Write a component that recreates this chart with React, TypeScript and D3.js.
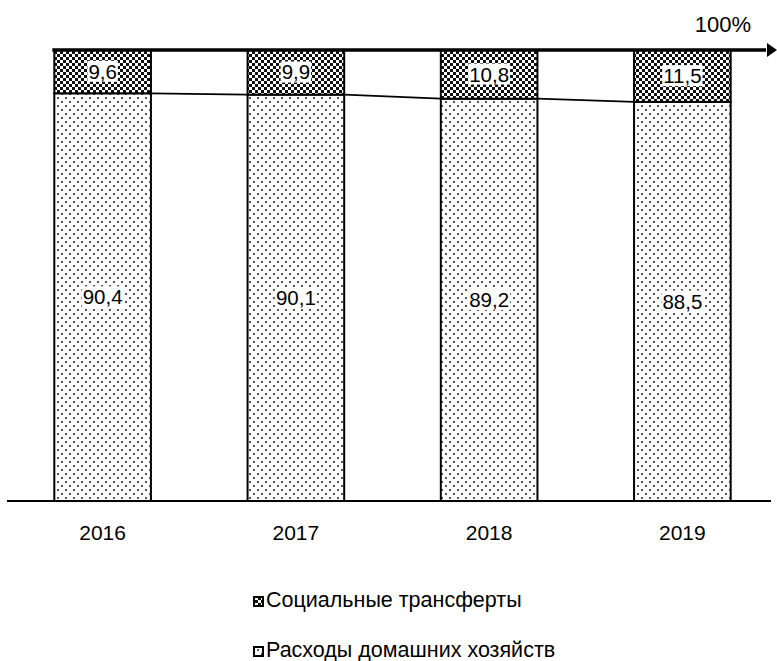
import React, { useEffect, useRef } from "react";
import * as d3 from "d3";

const years = ["2016", "2017", "2018", "2019"];
const households = [90.4, 90.1, 89.2, 88.5];
const transfers = [9.6, 9.9, 10.8, 11.5];
const legendLabels = ["Социальные трансферты", "Расходы домашних хозяйств"];
const fmt = (v: number) => String(v).replace(".", ",");
const font = "Arial, Liberation Sans, sans-serif";

const App = () => {
  const ref = useRef<SVGSVGElement>(null);

  useEffect(() => {
    const width = 777;
    const height = 661;
    const svg = d3.select(ref.current).attr("width", width).attr("height", height);
    svg.selectAll("*").remove();

    const defs = svg.append("defs");
    const checker = defs
      .append("pattern")
      .attr("id", "checker")
      .attr("patternUnits", "userSpaceOnUse")
      .attr("width", 6)
      .attr("height", 6);
    checker.append("rect").attr("width", 6).attr("height", 6).attr("fill", "#111");
    checker.append("rect").attr("x", 0).attr("y", 0).attr("width", 3).attr("height", 3).attr("fill", "#fff");
    checker.append("rect").attr("x", 3).attr("y", 3).attr("width", 3).attr("height", 3).attr("fill", "#fff");

    const dots = defs
      .append("pattern")
      .attr("id", "dots")
      .attr("patternUnits", "userSpaceOnUse")
      .attr("width", 8)
      .attr("height", 8);
    dots.append("rect").attr("width", 8).attr("height", 8).attr("fill", "#fff");
    dots.append("rect").attr("x", 1).attr("y", 1).attr("width", 2).attr("height", 2).attr("fill", "#555");
    dots.append("rect").attr("x", 5).attr("y", 5).attr("width", 2).attr("height", 2).attr("fill", "#555");

    const x = d3.scaleBand().domain(years).range([6, 779]).paddingInner(0.5).paddingOuter(0.25);
    const y = d3.scaleLinear().domain([0, 100]).range([501, 50]);
    const bw = x.bandwidth();

    const data = years.map((yr, i) => ({ yr, h: households[i], t: transfers[i] }));

    // нижние сегменты
    svg
      .selectAll(".hh")
      .data(data)
      .enter()
      .append("rect")
      .attr("x", (d) => x(d.yr)!)
      .attr("y", (d) => y(d.h))
      .attr("width", bw)
      .attr("height", (d) => y(0) - y(d.h))
      .attr("fill", "url(#dots)")
      .attr("stroke", "#000")
      .attr("stroke-width", 2);

    // верхние сегменты
    svg
      .selectAll(".tr")
      .data(data)
      .enter()
      .append("rect")
      .attr("x", (d) => x(d.yr)!)
      .attr("y", (d) => y(d.h + d.t))
      .attr("width", bw)
      .attr("height", (d) => y(d.h) - y(d.h + d.t))
      .attr("fill", "url(#checker)")
      .attr("stroke", "#000")
      .attr("stroke-width", 2);

    // соединительные линии
    for (let i = 0; i < data.length - 1; i++) {
      svg
        .append("line")
        .attr("x1", x(data[i].yr)! + bw)
        .attr("x2", x(data[i + 1].yr)!)
        .attr("y1", y(data[i].h))
        .attr("y2", y(data[i + 1].h))
        .attr("stroke", "#000")
        .attr("stroke-width", 1.8);
    }

    // базовая линия
    svg
      .append("line")
      .attr("x1", 7)
      .attr("x2", 771)
      .attr("y1", y(0))
      .attr("y2", y(0))
      .attr("stroke", "#000")
      .attr("stroke-width", 2);

    // линия 100% со стрелкой
    svg
      .append("line")
      .attr("x1", x(years[0])! - 2)
      .attr("x2", 766)
      .attr("y1", y(100))
      .attr("y2", y(100))
      .attr("stroke", "#000")
      .attr("stroke-width", 3.5);
    svg
      .append("path")
      .attr("d", `M767,${y(100) - 7}L777,${y(100)}L767,${y(100) + 7}Z`)
      .attr("fill", "#000");
    svg
      .append("text")
      .attr("x", 723)
      .attr("y", 32)
      .attr("text-anchor", "middle")
      .attr("font-family", font)
      .attr("font-size", 22)
      .text("100%");

    // подписи значений
    const addLabel = (cx: number, cy: number, txt: string) => {
      const g = svg.append("g");
      const t = g
        .append("text")
        .attr("x", cx)
        .attr("y", cy)
        .attr("dy", "0.35em")
        .attr("text-anchor", "middle")
        .attr("font-family", font)
        .attr("font-size", 20.5)
        .text(txt);
      const b = (t.node() as SVGTextElement).getBBox();
      g.insert("rect", "text")
        .attr("x", b.x - 1)
        .attr("y", b.y + 1)
        .attr("width", b.width + 2)
        .attr("height", b.height - 2)
        .attr("fill", "#fff");
    };
    data.forEach((d) => {
      const cx = x(d.yr)! + bw / 2;
      addLabel(cx, (y(d.h) + y(d.h + d.t)) / 2, fmt(d.t));
      addLabel(cx, (y(0) + y(d.h)) / 2, fmt(d.h));
    });

    // годы
    svg
      .selectAll(".yr")
      .data(years)
      .enter()
      .append("text")
      .attr("x", (d) => x(d)! + bw / 2)
      .attr("y", 540)
      .attr("text-anchor", "middle")
      .attr("font-family", font)
      .attr("font-size", 21)
      .text((d) => d);

    // легенда
    const fills = ["url(#checker)", "url(#dots)"];
    legendLabels.forEach((lab, i) => {
      const base = 607 + i * 50;
      svg
        .append("rect")
        .attr("x", 254)
        .attr("y", base - 10)
        .attr("width", 9)
        .attr("height", 9)
        .attr("fill", fills[i])
        .attr("stroke", "#000")
        .attr("stroke-width", 2);
      svg
        .append("text")
        .attr("x", 266)
        .attr("y", base)
        .attr("font-family", font)
        .attr("font-size", 21.5)
        .text(lab);
    });
  }, []);

  return <svg ref={ref} style={{ position: "absolute", left: 0, top: 0 }}></svg>;
};

export default App;
